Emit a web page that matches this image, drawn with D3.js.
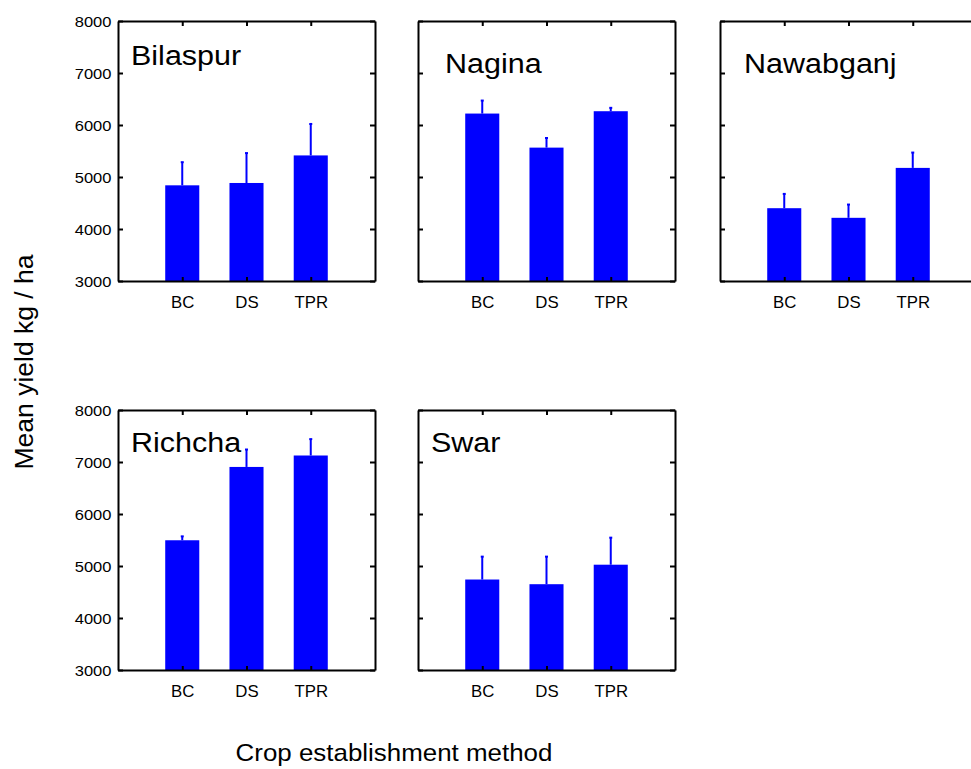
<!DOCTYPE html>
<html>
<head>
<meta charset="utf-8">
<script src="https://cdn.jsdelivr.net/npm/d3@7"></script>
<style>
  body { margin: 0; background: #fff; }
  svg { display: block; }
</style>
</head>
<body>
<div id="chart"></div>
<script>
// Data
const sites = ["Bilaspur", "Nagina", "Nawabganj", "Richcha", "Swar"];
const methods = ["BC", "DS", "TPR"];
// mean yield, kg/ha, per site in order of methods
const meanYield = [
  [4840, 4885, 5415],
  [6220, 5565, 6265],
  [4400, 4215, 5175],
  [5495, 6905, 7125],
  [4740, 4650, 5025]
];
// upper error (standard error) per bar
const stdErr = [
  [445, 575, 605],
  [250, 185, 65],
  [275, 255, 295],
  [75, 335, 315],
  [440, 530, 520]
];
const yTicks = [3000, 4000, 5000, 6000, 7000, 8000];

// Layout
const width = 971;
const height = 769;
const colLeft = [118, 418, 720];
const rowTop = [21, 410];
const pw = 257;
const ph = 260;
const titleOffset = [[13, 44], [27, 52], [24, 52], [13, 42], [13, 42]];
const barColor = "#0000ff";
const font = "'Liberation Sans', Arial, Helvetica, sans-serif";

const svg = d3.select("#chart").append("svg")
  .attr("width", width)
  .attr("height", height)
  .attr("font-family", font);

svg.append("rect")
  .attr("width", width)
  .attr("height", height)
  .attr("fill", "#fff");

const x = d3.scalePoint().domain(methods).range([0, pw]).padding(1);
const y = d3.scaleLinear().domain([3000, 8000]).range([ph, 0]);
const barW = x.step() * 0.53;

sites.forEach((site, i) => {
  const col = i % 3;
  const row = Math.floor(i / 3);
  const g = svg.append("g")
    .attr("transform", `translate(${colLeft[col]},${rowTop[row]})`);

  const rows = methods.map((m, j) => ({ m, v: meanYield[i][j], e: stdErr[i][j] }));

  // error bars (upper only)
  const err = g.append("g")
    .attr("stroke", barColor)
    .attr("stroke-width", 2);

  err.selectAll("line.stem")
    .data(rows)
    .join("line")
    .attr("class", "stem")
    .attr("x1", d => x(d.m))
    .attr("x2", d => x(d.m))
    .attr("y1", d => y(d.v))
    .attr("y2", d => y(d.v + d.e));

  err.selectAll("line.cap")
    .data(rows)
    .join("line")
    .attr("class", "cap")
    .attr("x1", d => x(d.m) - 1.5)
    .attr("x2", d => x(d.m) + 1.5)
    .attr("y1", d => y(d.v + d.e))
    .attr("y2", d => y(d.v + d.e));

  g.selectAll("rect.bar")
    .data(rows)
    .join("rect")
    .attr("class", "bar")
    .attr("fill", barColor)
    .attr("x", d => x(d.m) - barW / 2)
    .attr("width", barW)
    .attr("y", d => y(d.v))
    .attr("height", d => y(3000) - y(d.v));

  // axes, ticks pointing inward
  const left = g.append("g")
    .call(d3.axisLeft(y).tickValues(yTicks).tickSize(-5).tickSizeOuter(0).tickPadding(6)
      .tickFormat(col === 0 ? d3.format("d") : () => ""));
  const right = g.append("g")
    .attr("transform", `translate(${pw},0)`)
    .call(d3.axisRight(y).tickValues(yTicks).tickSize(-5).tickSizeOuter(0).tickFormat(() => ""));
  const top = g.append("g")
    .call(d3.axisTop(x).tickSize(-5).tickSizeOuter(0).tickFormat(() => ""));
  const bottom = g.append("g")
    .attr("transform", `translate(0,${ph})`)
    .call(d3.axisBottom(x).tickSize(-4).tickSizeOuter(0).tickPadding(16));

  [left, right, top, bottom].forEach(a => {
    a.selectAll("path.domain").attr("stroke", "#000").attr("stroke-width", 2);
    a.selectAll(".tick line").attr("stroke", "#000").attr("stroke-width", 2);
    a.selectAll("text").attr("fill", "#000").attr("font-family", font);
  });

  left.selectAll("text")
    .attr("font-size", 15)
    .attr("dy", "0.38em")
    .attr("transform", "scale(1.1,1)");

  bottom.selectAll("text")
    .attr("font-size", 16)
    .attr("dy", "0.71em")
    .attr("transform", "scale(1.05,1)");

  g.append("text")
    .attr("transform", `translate(${titleOffset[i][0]},${titleOffset[i][1]}) scale(1.09,1)`)
    .attr("font-size", 28)
    .attr("fill", "#000")
    .text(site);
});

// axis titles
svg.append("text")
  .attr("transform", "translate(33,362) rotate(-90) scale(1.06,1)")
  .attr("text-anchor", "middle")
  .attr("font-size", 25)
  .attr("fill", "#000")
  .text("Mean yield kg / ha");

svg.append("text")
  .attr("transform", "translate(394,761) scale(1.08,1)")
  .attr("text-anchor", "middle")
  .attr("font-size", 24)
  .attr("fill", "#000")
  .text("Crop establishment method");
</script>
</body>
</html>
